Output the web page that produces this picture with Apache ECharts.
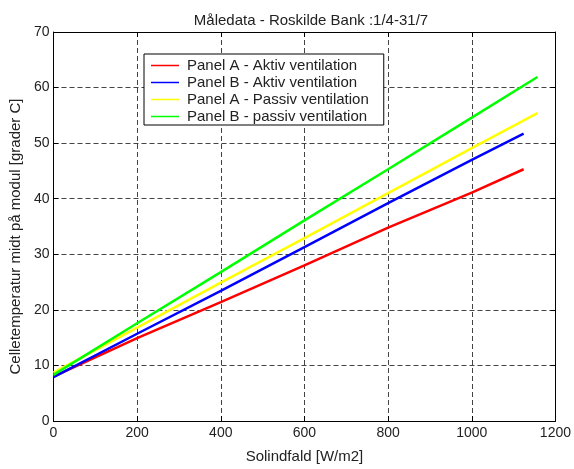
<!DOCTYPE html>
<html>
<head>
<meta charset="utf-8">
<script src="https://cdn.jsdelivr.net/npm/echarts@6/dist/echarts.min.js"></script>
<style>
  html,body{margin:0;padding:0;background:#fff;}
  #chart{width:574px;height:469px;}
</style>
</head>
<body>
<div id="chart"></div>
<script>
// solindfald (W/m2) og celletemperatur pr. serie
const xA = [0, 200, 400, 600, 800, 1000, 1124];
const xB = [0, 200, 400, 600, 800, 1000, 1157];
const redVals = [8.0, 14.9, 21.4, 28.0, 34.8, 41.1, 45.3];
const blueVals = [7.9, 15.7, 23.4, 31.3, 39.2, 47.0, 51.7];
const yellowVals = [8.7, 16.8, 24.9, 32.9, 41.0, 49.1, 55.4];
const greenVals = [8.3, 17.6, 26.8, 36.1, 45.3, 54.6, 61.9];
const names = ['Panel A - Aktiv ventilation', 'Panel B - Aktiv ventilation', 'Panel A - Passiv ventilation', 'Panel B - passiv ventilation'];

const font = 'Liberation Sans, Arial, sans-serif';
const pairs = (xs, ys) => xs.map((x, i) => [x, ys[i]]);

const chart = echarts.init(document.getElementById('chart'));
const gridLine = { show: true, lineStyle: { color: '#444', type: [5, 3], width: 1 } };
const axisLine = { show: true, onZero: false, lineStyle: { color: '#000', width: 1 } };
const tick = { show: true, inside: true, length: 5, lineStyle: { color: '#000' } };

function serie(name, xs, ys, color) {
  return {
    name: name, type: 'line', data: pairs(xs, ys), showSymbol: false,
    lineStyle: { color: color, width: 2.5 }, itemStyle: { color: color }, animation: false
  };
}

chart.setOption({
  backgroundColor: '#fff',
  title: {
    text: 'Måledata - Roskilde Bank :1/4-31/7', left: 306, textAlign: 'center', top: 8,
    textStyle: { fontFamily: font, fontSize: 15, fontWeight: 'normal', color: '#222' }
  },
  grid: { left: 53, right: 15, top: 32, bottom: 41 },
  legend: {
    orient: 'vertical', left: 144, top: 54,
    data: names,
    icon: 'rect', itemWidth: 28, itemHeight: 1.5, itemGap: 2,
    padding: [4, 15, 1, 7],
    borderColor: '#000', borderWidth: 1, backgroundColor: '#fff',
    textStyle: { fontFamily: font, fontSize: 15, color: '#222', padding: [0, 0, 0, 3] }
  },
  xAxis: [{
    type: 'value', min: 0, max: 1200, interval: 200,
    name: 'Solindfald [W/m2]', nameLocation: 'middle', nameGap: 28,
    nameTextStyle: { fontFamily: font, fontSize: 15, color: '#222' },
    axisLine: axisLine, axisTick: tick, splitLine: gridLine,
    axisLabel: { fontFamily: font, fontSize: 14, color: '#222', margin: 5, formatter: v => String(v) }
  }, {
    type: 'value', position: 'top', min: 0, max: 1200, interval: 200,
    axisLine: axisLine, axisTick: tick, splitLine: { show: false }, axisLabel: { show: false }
  }],
  yAxis: [{
    type: 'value', min: 0, max: 70, interval: 10,
    name: 'Celletemperatur midt på modul [grader C]', nameLocation: 'middle', nameGap: 16,
    nameTextStyle: { fontFamily: font, fontSize: 15, color: '#222', padding: [0, 20, 0, 0] },
    axisLine: axisLine, axisTick: tick, splitLine: gridLine,
    axisLabel: { fontFamily: font, fontSize: 14, color: '#222', margin: 4 }
  }, {
    type: 'value', position: 'right', min: 0, max: 70, interval: 10,
    axisLine: axisLine, axisTick: tick, splitLine: { show: false }, axisLabel: { show: false }
  }],
  series: [
    serie(names[0], xA, redVals, '#ff0000'),
    serie(names[1], xA, blueVals, '#0000ff'),
    serie(names[2], xB, yellowVals, '#ffff00'),
    serie(names[3], xB, greenVals, '#00ff00')
  ]
});
</script>
</body>
</html>
